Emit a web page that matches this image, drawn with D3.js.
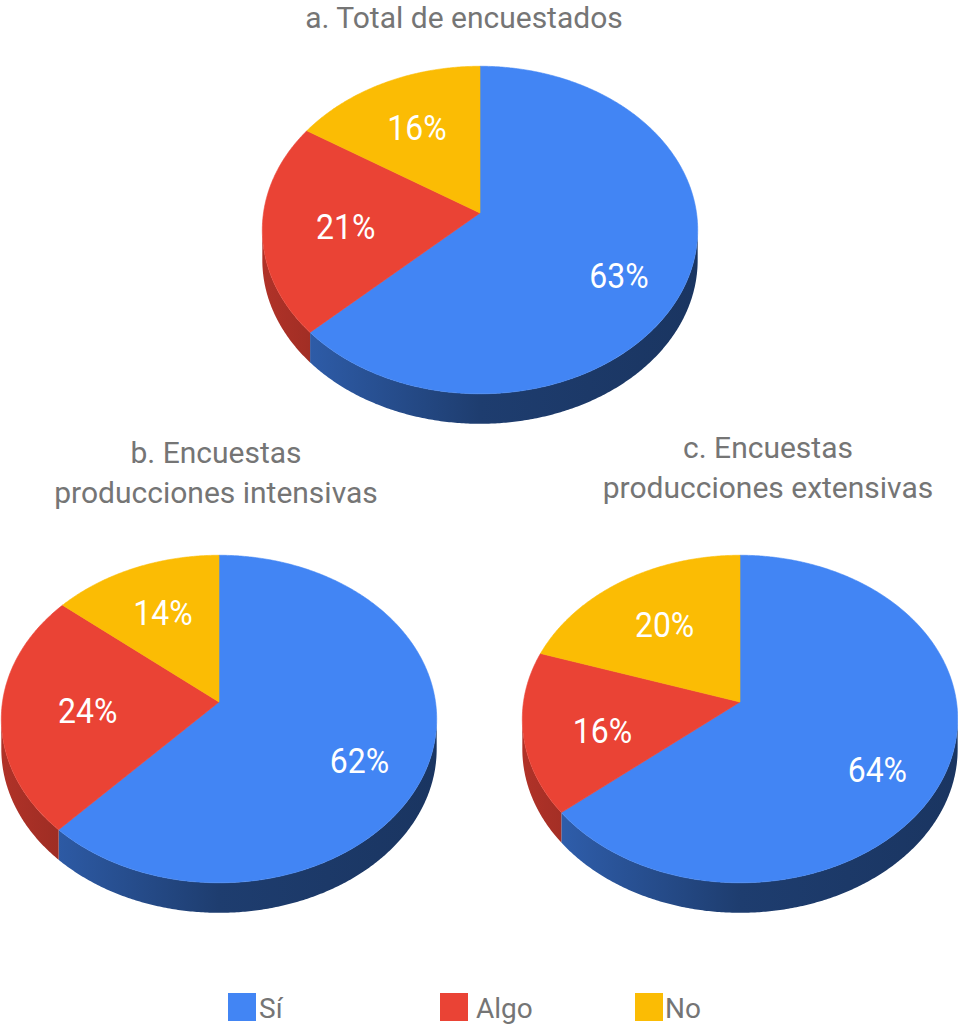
<!DOCTYPE html>
<html>
<head>
<meta charset="utf-8">
<script src="https://cdn.jsdelivr.net/npm/d3@7"></script>
<style>
  html, body { margin: 0; padding: 0; background: #ffffff; }
  svg { display: block; }
  text { font-family: Roboto, "Noto Sans", sans-serif; }
</style>
</head>
<body>
<div id="chart"></div>
<script>
// ---------------- data ----------------
const categories = ["Sí", "Algo", "No"];
const valuesTotal = [63, 21, 16];
const valuesIntensivas = [62, 24, 14];
const valuesExtensivas = [64, 16, 20];
const titleTotal = ["a. Total de encuestados"];
const titleIntensivas = ["b. Encuestas", "producciones intensivas"];
const titleExtensivas = ["c. Encuestas", "producciones extensivas"];
const sliceColors = ["#4285f4", "#ea4335", "#fbbc04"];

// ---------------- layout ----------------
const W = 958, H = 1025;
const A = 216.5, B = 162, K = 0.104, DEPTH = 30;
const pies = [
  { id: "a", values: valuesTotal, title: titleTotal, cx: 480, cy: 213, tx: 464, ty: 28 },
  { id: "b", values: valuesIntensivas, title: titleIntensivas, cx: 219, cy: 702, tx: 216, ty: 463 },
  { id: "c", values: valuesExtensivas, title: titleExtensivas, cx: 740, cy: 702, tx: 768, ty: 458 }
];
const legendX = [228, 440, 635];
const legendTextX = [259, 476, 665];

const svg = d3.select("#chart").append("svg")
  .attr("width", W).attr("height", H);
const defs = svg.append("defs");

const color = d3.scaleOrdinal().domain(categories).range(sliceColors);

// perspective projection of a point on the pie disc
function proj(p, theta, f) {
  const u = f * Math.sin(theta), v = -f * Math.cos(theta);
  const w = 1 - K * v;
  return [p.cx + A * u / w, p.cy + B * v / w];
}
function arcPoints(p, a0, a1, f) {
  const n = Math.max(2, Math.ceil((a1 - a0) / (Math.PI / 360)));
  return d3.range(n + 1).map(i => proj(p, a0 + (a1 - a0) * i / n, f));
}
const line = d3.line();
const pieGen = d3.pie().sort(null).value(d => d.value);
const visL = Math.PI / 2 + Math.asin(K), visR = 3 * Math.PI / 2 - Math.asin(K);

pies.forEach(p => {
  const g = svg.append("g");
  const data = categories.map((c, i) => ({ cat: c, value: p.values[i] }));
  const arcs = pieGen(data);

  // side gradients
  categories.forEach((c, i) => {
    const base = d3.color(color(c));
    const grad = defs.append("linearGradient")
      .attr("id", `side-${p.id}-${i}`)
      .attr("gradientUnits", "userSpaceOnUse")
      .attr("x1", p.cx - A).attr("x2", p.cx + A).attr("y1", 0).attr("y2", 0);
    [[0, 0.8], [0.5, 2.2], [1, 2.6]].forEach(([o, k]) => {
      grad.append("stop").attr("offset", o).attr("stop-color", base.darker(k).formatHex());
    });
  });

  // sides
  arcs.forEach((a, i) => {
    const s0 = Math.max(a.startAngle, visL), s1 = Math.min(a.endAngle, visR);
    if (s1 <= s0) return;
    const top = arcPoints(p, s0, s1, 1);
    const bottom = top.map(([x, y]) => [x, y + DEPTH]).reverse();
    g.append("path")
      .attr("d", line(top.concat(bottom)) + "Z")
      .attr("fill", `url(#side-${p.id}-${i})`);
  });

  // top faces
  arcs.forEach(a => {
    const pts = [[p.cx, p.cy]].concat(arcPoints(p, a.startAngle, a.endAngle, 1));
    g.append("path")
      .attr("d", line(pts) + "Z")
      .attr("fill", color(a.data.cat))
      .attr("stroke", color(a.data.cat))
      .attr("stroke-width", 0.6);
  });

  // labels (sector centroid radius for small slices, fixed radius for large ones)
  arcs.forEach(a => {
    const mid = (a.startAngle + a.endAngle) / 2;
    const half = (a.endAngle - a.startAngle) / 2;
    const cf = 2 * Math.sin(half) / (3 * half);
    const f = cf > 0.5 ? cf : 0.68;
    const [x, y0] = proj(p, mid, f);
    const y = y0 + 1.5 * DEPTH * Math.max(0, -Math.cos(mid));
    g.append("text")
      .attr("transform", `translate(${x},${y}) scale(1,1.08)`)
      .attr("dy", "0.36em")
      .attr("text-anchor", "middle")
      .attr("fill", "#ffffff")
      .attr("font-size", 32)
      .text(d3.format(".0%")(a.value / d3.sum(p.values)));
  });

  // title
  const t = svg.append("text")
    .attr("text-anchor", "middle")
    .attr("fill", "#757575")
    .attr("font-size", 30);
  p.title.forEach((s, i) => {
    t.append("tspan").attr("x", p.tx).attr("y", p.ty + i * 40).text(s);
  });
});

// legend
const lg = svg.append("g");
categories.forEach((c, i) => {
  lg.append("rect")
    .attr("x", legendX[i]).attr("y", 993)
    .attr("width", 28).attr("height", 28)
    .attr("fill", color(c));
  lg.append("text")
    .attr("x", legendTextX[i]).attr("y", 1018)
    .attr("fill", "#757575")
    .attr("font-size", 28)
    .text(c);
});
</script>
</body>
</html>
